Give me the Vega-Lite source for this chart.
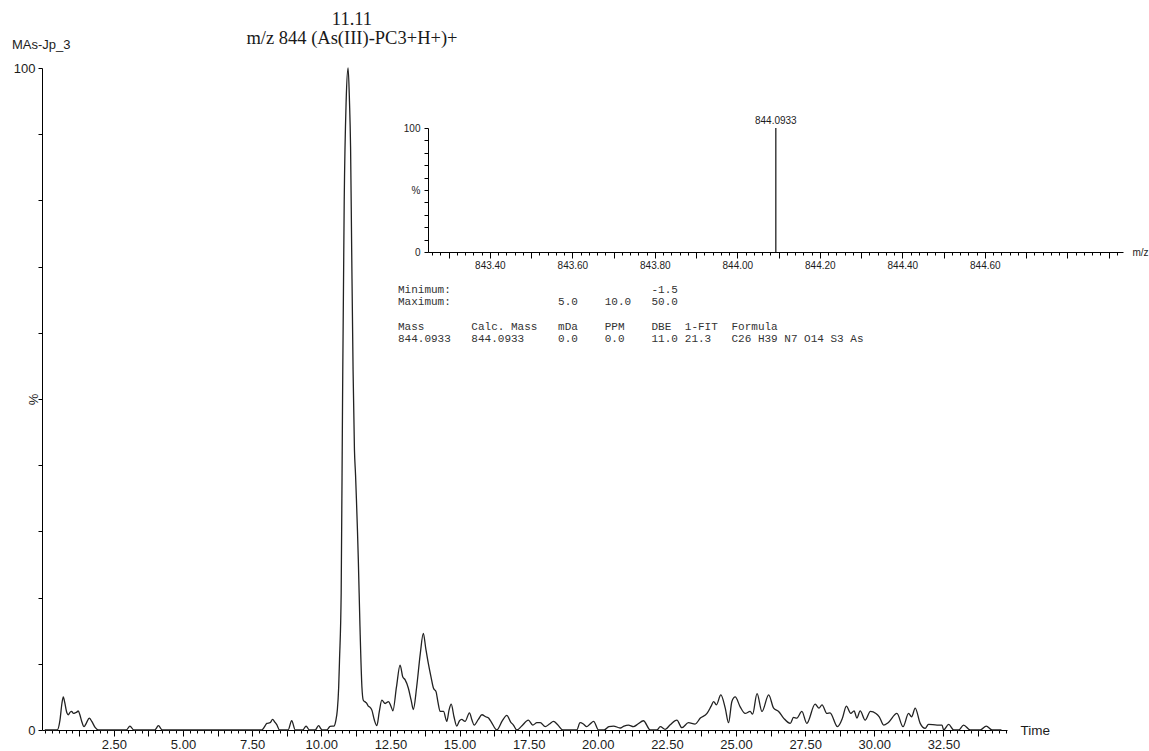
{
  "$schema": "https://vega.github.io/schema/vega-lite/v6.json",
  "width": 965,
  "height": 662,
  "autosize": {"type": "none"},
  "padding": {"left": 42, "top": 68, "right": 142, "bottom": 21},
  "background": "white",
  "title": {"text": "MAs-Jp_3", "anchor": "start", "frame": "group", "dx": -30, "offset": -42, "font": "Liberation Sans", "fontSize": 13, "fontWeight": "normal", "color": "#1c1c1c"},
  "config": {
    "view": {"stroke": null},
    "axis": {"domainColor": "#000", "tickColor": "#000", "labelColor": "#1c1c1c", "titleColor": "#1c1c1c", "labelFont": "Liberation Sans", "titleFont": "Liberation Sans", "titleFontWeight": "normal", "grid": false, "labelFlush": false, "labelOverlap": false, "domainWidth": 1, "tickWidth": 1}
  },
  "datasets": {
    "chrom": [
      {"time": 0.0, "pct": 0}, {"time": 0.45, "pct": 0}, {"time": 0.55, "pct": 1.5}, {"time": 0.62, "pct": 4.0}, {"time": 0.67, "pct": 5.0}, {"time": 0.72, "pct": 4.2}, {"time": 0.8, "pct": 2.6}, {"time": 0.85, "pct": 2.3}, {"time": 0.92, "pct": 2.7}, {"time": 0.97, "pct": 2.8}, {"time": 1.04, "pct": 2.5}, {"time": 1.1, "pct": 2.6}, {"time": 1.16, "pct": 2.7}, {"time": 1.21, "pct": 2.9}, {"time": 1.27, "pct": 2.3}, {"time": 1.33, "pct": 1.4}, {"time": 1.42, "pct": 0.5}, {"time": 1.5, "pct": 1.0}, {"time": 1.61, "pct": 1.8}, {"time": 1.7, "pct": 1.3}, {"time": 1.82, "pct": 0.4}, {"time": 1.94, "pct": 0},
      {"time": 2.95, "pct": 0}, {"time": 3.08, "pct": 0.6}, {"time": 3.22, "pct": 0}, {"time": 3.98, "pct": 0}, {"time": 4.11, "pct": 0.65}, {"time": 4.25, "pct": 0},
      {"time": 7.85, "pct": 0}, {"time": 7.95, "pct": 0.5}, {"time": 8.03, "pct": 1.0}, {"time": 8.15, "pct": 1.1}, {"time": 8.24, "pct": 1.6}, {"time": 8.32, "pct": 1.2}, {"time": 8.39, "pct": 0.8}, {"time": 8.49, "pct": 0}, {"time": 8.8, "pct": 0}, {"time": 8.93, "pct": 1.4}, {"time": 9.06, "pct": 0}, {"time": 9.33, "pct": 0}, {"time": 9.45, "pct": 0.6}, {"time": 9.57, "pct": 0}, {"time": 9.78, "pct": 0}, {"time": 9.9, "pct": 0.65}, {"time": 10.03, "pct": 0}, {"time": 10.2, "pct": 0}, {"time": 10.32, "pct": 0.55}, {"time": 10.46, "pct": 0.6}, {"time": 10.53, "pct": 1.5}, {"time": 10.58, "pct": 3.0}, {"time": 10.63, "pct": 6.5}, {"time": 10.66, "pct": 10.6}, {"time": 10.72, "pct": 20.7}, {"time": 10.77, "pct": 50}, {"time": 10.83, "pct": 80}, {"time": 10.9, "pct": 95}, {"time": 10.97, "pct": 100}, {"time": 11.02, "pct": 95}, {"time": 11.06, "pct": 88}, {"time": 11.1, "pct": 72.5}, {"time": 11.15, "pct": 54.4}, {"time": 11.2, "pct": 42.3}, {"time": 11.24, "pct": 38.5}, {"time": 11.27, "pct": 35}, {"time": 11.31, "pct": 30}, {"time": 11.34, "pct": 25.7}, {"time": 11.4, "pct": 15.6}, {"time": 11.47, "pct": 6.5}, {"time": 11.52, "pct": 4.5}, {"time": 11.6, "pct": 4.2}, {"time": 11.65, "pct": 4.0}, {"time": 11.7, "pct": 3.6}, {"time": 11.74, "pct": 3.5}, {"time": 11.83, "pct": 3.0}, {"time": 11.92, "pct": 1.5}, {"time": 12.01, "pct": 0.65}, {"time": 12.1, "pct": 2.8}, {"time": 12.19, "pct": 4.5}, {"time": 12.31, "pct": 4.0}, {"time": 12.43, "pct": 4.3}, {"time": 12.52, "pct": 3.6}, {"time": 12.59, "pct": 2.9}, {"time": 12.72, "pct": 6.5}, {"time": 12.85, "pct": 9.8}, {"time": 12.95, "pct": 8.0}, {"time": 13.03, "pct": 7.6}, {"time": 13.15, "pct": 6.3}, {"time": 13.25, "pct": 4.5}, {"time": 13.33, "pct": 3.1}, {"time": 13.45, "pct": 6.5}, {"time": 13.58, "pct": 11.5}, {"time": 13.69, "pct": 14.6}, {"time": 13.78, "pct": 12.3}, {"time": 13.87, "pct": 10.1}, {"time": 13.97, "pct": 8.0}, {"time": 14.06, "pct": 6.3}, {"time": 14.15, "pct": 5.8}, {"time": 14.22, "pct": 4.2}, {"time": 14.3, "pct": 2.8}, {"time": 14.42, "pct": 2.8}, {"time": 14.54, "pct": 1.3}, {"time": 14.62, "pct": 3.0}, {"time": 14.7, "pct": 3.9}, {"time": 14.8, "pct": 2.0}, {"time": 14.9, "pct": 0.6}, {"time": 15.0, "pct": 1.4}, {"time": 15.08, "pct": 1.6}, {"time": 15.2, "pct": 1.3}, {"time": 15.36, "pct": 2.6}, {"time": 15.45, "pct": 1.5}, {"time": 15.53, "pct": 0.75}, {"time": 15.68, "pct": 1.6}, {"time": 15.81, "pct": 2.3}, {"time": 15.95, "pct": 2.0}, {"time": 16.05, "pct": 1.8}, {"time": 16.15, "pct": 1.2}, {"time": 16.35, "pct": 0}, {"time": 16.55, "pct": 1.4}, {"time": 16.71, "pct": 2.2}, {"time": 16.85, "pct": 1.2}, {"time": 16.95, "pct": 0.75}, {"time": 17.07, "pct": 0}, {"time": 17.25, "pct": 0.6}, {"time": 17.49, "pct": 1.5}, {"time": 17.65, "pct": 0.75}, {"time": 17.8, "pct": 1.1}, {"time": 17.92, "pct": 1.1}, {"time": 18.1, "pct": 0.5}, {"time": 18.25, "pct": 0.9}, {"time": 18.4, "pct": 1.3}, {"time": 18.55, "pct": 0.8}, {"time": 18.74, "pct": 0}, {"time": 19.24, "pct": 0}, {"time": 19.36, "pct": 1.1}, {"time": 19.48, "pct": 0.9}, {"time": 19.6, "pct": 0.5}, {"time": 19.72, "pct": 0.9}, {"time": 19.85, "pct": 1.3}, {"time": 20.03, "pct": 0}, {"time": 20.23, "pct": 0}, {"time": 20.4, "pct": 0.5}, {"time": 20.57, "pct": 0.6}, {"time": 20.81, "pct": 0.3}, {"time": 20.95, "pct": 0.6}, {"time": 21.11, "pct": 0.75}, {"time": 21.29, "pct": 0.5}, {"time": 21.45, "pct": 0.9}, {"time": 21.65, "pct": 1.4}, {"time": 21.9, "pct": 0}, {"time": 22.14, "pct": 0}, {"time": 22.26, "pct": 0.5}, {"time": 22.44, "pct": 0.1}, {"time": 22.62, "pct": 0.8}, {"time": 22.86, "pct": 1.5}, {"time": 23.04, "pct": 0.35}, {"time": 23.28, "pct": 1.1}, {"time": 23.52, "pct": 0.9}, {"time": 23.71, "pct": 1.8}, {"time": 23.95, "pct": 2.5}, {"time": 24.1, "pct": 3.6}, {"time": 24.19, "pct": 4.3}, {"time": 24.29, "pct": 3.8}, {"time": 24.45, "pct": 5.3}, {"time": 24.61, "pct": 3.3}, {"time": 24.73, "pct": 1.1}, {"time": 24.85, "pct": 4.3}, {"time": 24.97, "pct": 5.0}, {"time": 25.15, "pct": 3.5}, {"time": 25.33, "pct": 2.5}, {"time": 25.51, "pct": 2.8}, {"time": 25.6, "pct": 2.4}, {"time": 25.76, "pct": 5.5}, {"time": 25.94, "pct": 2.8}, {"time": 26.18, "pct": 5.3}, {"time": 26.36, "pct": 3.3}, {"time": 26.54, "pct": 2.8}, {"time": 26.72, "pct": 1.8}, {"time": 26.96, "pct": 1.0}, {"time": 27.08, "pct": 1.9}, {"time": 27.2, "pct": 1.8}, {"time": 27.38, "pct": 2.8}, {"time": 27.56, "pct": 1.0}, {"time": 27.86, "pct": 3.9}, {"time": 28.0, "pct": 3.3}, {"time": 28.11, "pct": 3.8}, {"time": 28.29, "pct": 2.5}, {"time": 28.4, "pct": 2.6}, {"time": 28.67, "pct": 0.5}, {"time": 28.85, "pct": 1.8}, {"time": 28.99, "pct": 3.6}, {"time": 29.15, "pct": 2.5}, {"time": 29.27, "pct": 2.9}, {"time": 29.37, "pct": 1.8}, {"time": 29.49, "pct": 2.9}, {"time": 29.67, "pct": 1.5}, {"time": 29.86, "pct": 2.8}, {"time": 30.06, "pct": 2.5}, {"time": 30.18, "pct": 2.0}, {"time": 30.34, "pct": 0.75}, {"time": 30.5, "pct": 1.1}, {"time": 30.82, "pct": 2.5}, {"time": 31.04, "pct": 0.5}, {"time": 31.24, "pct": 2.5}, {"time": 31.35, "pct": 2.0}, {"time": 31.48, "pct": 3.3}, {"time": 31.66, "pct": 1.0}, {"time": 31.84, "pct": 0.25}, {"time": 31.96, "pct": 0.85}, {"time": 32.27, "pct": 0.75}, {"time": 32.45, "pct": 0.75}, {"time": 32.51, "pct": 0}, {"time": 32.69, "pct": 0.85}, {"time": 32.87, "pct": 0}, {"time": 33.05, "pct": 0}, {"time": 33.23, "pct": 0.75}, {"time": 33.47, "pct": 0}, {"time": 33.83, "pct": 0}, {"time": 34.05, "pct": 0.6}, {"time": 34.26, "pct": 0}, {"time": 34.6, "pct": 0}
    ],
    "peaklabel": [{"t": 11.11, "lbl": "11.11\nm/z 844 (As(III)-PC3+H+)+"}],
    "spectrum": [{"mz": 844.0933, "pct": 100, "label": "844.0933"}],
    "table": [
      {"row": 0, "col": 0, "txt": "Minimum:"}, {"row": 0, "col": 38, "txt": "-1.5"},
      {"row": 1, "col": 0, "txt": "Maximum:"}, {"row": 1, "col": 24, "txt": "5.0"}, {"row": 1, "col": 31, "txt": "10.0"}, {"row": 1, "col": 38, "txt": "50.0"},
      {"row": 3, "col": 0, "txt": "Mass"}, {"row": 3, "col": 11, "txt": "Calc. Mass"}, {"row": 3, "col": 24, "txt": "mDa"}, {"row": 3, "col": 31, "txt": "PPM"}, {"row": 3, "col": 38, "txt": "DBE"}, {"row": 3, "col": 43, "txt": "1-FIT"}, {"row": 3, "col": 50, "txt": "Formula"},
      {"row": 4, "col": 0, "txt": "844.0933"}, {"row": 4, "col": 11, "txt": "844.0933"}, {"row": 4, "col": 24, "txt": "0.0"}, {"row": 4, "col": 31, "txt": "0.0"}, {"row": 4, "col": 38, "txt": "11.0"}, {"row": 4, "col": 43, "txt": "21.3"}, {"row": 4, "col": 50, "txt": "C26 H39 N7 O14 S3 As"}
    ]
  },
  "layer": [
    {
      "layer": [
        {
          "data": {"name": "chrom"},
          "mark": {"type": "line", "color": "#222", "strokeWidth": 1.3, "interpolate": "monotone"},
          "encoding": {
            "x": {"field": "time", "type": "quantitative",
              "scale": {"domain": [-0.1, 34.8], "nice": false, "zero": false},
              "axis": {"orient": "bottom", "values": [1.25, 2.5, 3.75, 5, 6.25, 7.5, 8.75, 10, 11.25, 12.5, 13.75, 15, 16.25, 17.5, 18.75, 20, 21.25, 22.5, 23.75, 25, 26.25, 27.5, 28.75, 30, 31.25, 32.5, 33.75],
                "tickSize": 6, "labelExpr": "datum.value % 2.5 == 0 ? format(datum.value, '.2f') : ''", "labelFontSize": 13, "labelPadding": 2,
                "title": "Time", "titleX": 978, "titleY": 0, "titleAlign": "left", "titleBaseline": "middle", "titleAngle": 0, "titleFontSize": 13.5}},
            "y": {"field": "pct", "type": "quantitative",
              "scale": {"domain": [0, 100], "nice": false},
              "axis": {"orient": "left", "values": [0, 10, 20, 30, 40, 50, 60, 70, 80, 90, 100], "tickSize": 4,
                "labelExpr": "datum.value == 0 || datum.value == 100 ? datum.label : ''", "labelFontSize": 13, "labelPadding": 3,
                "title": "%", "titleX": -9, "titleY": 331, "titleAngle": 270, "titleAlign": "center", "titleBaseline": "middle", "titleFontSize": 13}}
          }
        },
        {
          "data": {"name": "peaklabel"},
          "mark": {"type": "text", "lineBreak": "\n", "font": "Liberation Serif", "fontSize": 18.5, "lineHeight": 19, "baseline": "bottom", "align": "center", "dy": -39, "color": "#1a1a1a"},
          "encoding": {
            "x": {"field": "t", "type": "quantitative",
              "axis": {"orient": "bottom", "values": [0,0.25,0.5,0.75,1,1.25,1.5,1.75,2,2.25,2.5,2.75,3,3.25,3.5,3.75,4,4.25,4.5,4.75,5,5.25,5.5,5.75,6,6.25,6.5,6.75,7,7.25,7.5,7.75,8,8.25,8.5,8.75,9,9.25,9.5,9.75,10,10.25,10.5,10.75,11,11.25,11.5,11.75,12,12.25,12.5,12.75,13,13.25,13.5,13.75,14,14.25,14.5,14.75,15,15.25,15.5,15.75,16,16.25,16.5,16.75,17,17.25,17.5,17.75,18,18.25,18.5,18.75,19,19.25,19.5,19.75,20,20.25,20.5,20.75,21,21.25,21.5,21.75,22,22.25,22.5,22.75,23,23.25,23.5,23.75,24,24.25,24.5,24.75,25,25.25,25.5,25.75,26,26.25,26.5,26.75,27,27.25,27.5,27.75,28,28.25,28.5,28.75,29,29.25,29.5,29.75,30,30.25,30.5,30.75,31,31.25,31.5,31.75,32,32.25,32.5,32.75,33,33.25,33.5,33.75,34,34.25,34.5,34.75],
                "tickSize": 3, "labels": false, "domain": false, "title": null}},
            "y": {"datum": 100, "type": "quantitative", "axis": null},
            "text": {"field": "lbl"}
          }
        }
      ],
      "resolve": {"axis": {"x": "independent", "y": "independent"}}
    },
    {
      "layer": [
        {
          "data": {"name": "spectrum"},
          "mark": {"type": "rule", "color": "#111", "strokeWidth": 1.2},
          "encoding": {
            "x": {"field": "mz", "type": "quantitative",
              "scale": {"domain": [843.25, 844.935], "range": [386, 1081], "nice": false, "zero": false},
              "axis": {"orient": "bottom", "offset": -478, "values": [843.3, 843.4, 843.5, 843.6, 843.7, 843.8, 843.9, 844.0, 844.1, 844.2, 844.3, 844.4, 844.5, 844.6, 844.7, 844.8, 844.9],
                "tickSize": 6, "labelExpr": "round(datum.value * 10) % 2 == 0 && datum.value < 844.7 ? format(datum.value, '.2f') : ''", "labelFontSize": 10, "labelPadding": 2,
                "title": "m/z", "titleX": 1090, "titleY": 0, "titleAlign": "left", "titleBaseline": "middle", "titleAngle": 0, "titleFontSize": 10}},
            "y": {"field": "pct", "type": "quantitative",
              "scale": {"domain": [0, 100], "range": [184, 60], "nice": false},
              "axis": {"orient": "left", "offset": -386, "values": [0, 10, 20, 30, 40, 50, 60, 70, 80, 90, 100], "tickSize": 4,
                "labelExpr": "datum.value == 50 ? '%' : (datum.value == 0 || datum.value == 100 ? datum.label : '')", "labelFontSize": 10, "labelPadding": 4, "title": null}},
            "y2": {"datum": 0}
          }
        },
        {
          "data": {"name": "spectrum"},
          "mark": {"type": "text", "baseline": "bottom", "align": "center", "dy": -2, "font": "Liberation Sans", "fontSize": 10, "color": "#1c1c1c"},
          "encoding": {
            "x": {"field": "mz", "type": "quantitative",
              "axis": {"orient": "bottom", "offset": -478, "values": [843.26,843.28,843.3,843.32,843.34,843.36,843.38,843.4,843.42,843.44,843.46,843.48,843.5,843.52,843.54,843.56,843.58,843.6,843.62,843.64,843.66,843.68,843.7,843.72,843.74,843.76,843.78,843.8,843.82,843.84,843.86,843.88,843.9,843.92,843.94,843.96,843.98,844,844.02,844.04,844.06,844.08,844.1,844.12,844.14,844.16,844.18,844.2,844.22,844.24,844.26,844.28,844.3,844.32,844.34,844.36,844.38,844.4,844.42,844.44,844.46,844.48,844.5,844.52,844.54,844.56,844.58,844.6,844.62,844.64,844.66,844.68,844.7,844.72,844.74,844.76,844.78,844.8,844.82,844.84,844.86,844.88,844.9,844.92],
                "tickSize": 3, "labels": false, "domain": false, "title": null}},
            "y": {"field": "pct", "type": "quantitative", "axis": null},
            "text": {"field": "label"}
          }
        }
      ],
      "resolve": {"axis": {"x": "independent", "y": "independent"}}
    },
    {
      "data": {"name": "table"},
      "mark": {"type": "text", "align": "left", "baseline": "middle", "font": "Liberation Mono", "fontSize": 11, "color": "#333"},
      "encoding": {
        "x": {"field": "col", "type": "quantitative", "scale": {"domain": [0, 50], "range": [356, 689.5], "nice": false, "zero": false}, "axis": null},
        "y": {"field": "row", "type": "quantitative", "scale": {"domain": [0, 4], "range": [222, 271], "nice": false, "zero": false}, "axis": null},
        "text": {"field": "txt"}
      }
    }
  ],
  "resolve": {"scale": {"x": "independent", "y": "independent"}}
}
